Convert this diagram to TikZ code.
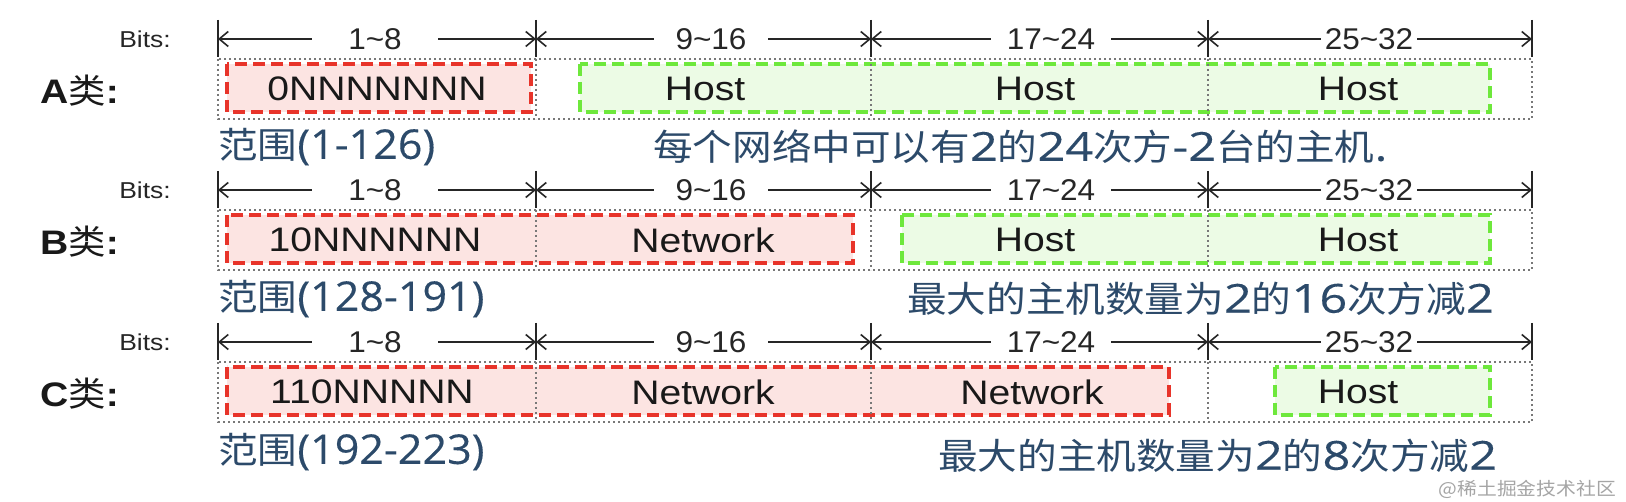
\documentclass[tikz,border=0pt]{standalone}
\usepackage{fontspec}
\setmainfont{Liberation Sans}[FakeStretch=1.15]
\newfontfamily\cjk{Noto Sans CJK SC}[FakeStretch=1.10]
\newfontfamily\dimfont{Liberation Sans}[FakeStretch=1.05]
\newfontfamily\desclat{Open Sans}[FakeStretch=1.22,FakeBold=0.25]
\newfontfamily\rangelat{Open Sans}[FakeStretch=1.05,FakeBold=0.25]
\newcommand\descnum[1]{{\desclat\fontsize{40}{44}\selectfont #1}}
\newcommand\rangenum[1]{{\rangelat\fontsize{41}{44}\selectfont #1}}
\usetikzlibrary{arrows.meta}
\definecolor{redline}{RGB}{232,52,42}
\definecolor{redfill}{RGB}{252,228,226}
\definecolor{greenline}{RGB}{110,232,60}
\definecolor{greenfill}{RGB}{236,251,229}
\definecolor{framegray}{RGB}{120,120,120}
\definecolor{descblue}{RGB}{44,74,106}
\definecolor{wmgray}{RGB}{165,165,165}
\begin{document}
\begin{tikzpicture}[x=1pt,y=-1pt,
  framebox/.style={draw=framegray, line width=2pt, dash pattern=on 2pt off 3pt},
  netbox/.style={draw=redline, fill=redfill, line width=3.6pt, dash pattern=on 12pt off 6pt},
  hostbox/.style={draw=greenline, fill=greenfill, line width=3.6pt, dash pattern=on 12pt off 6pt},
  tickline/.style={draw=black!85, line width=1.8pt},
  dimline/.style={draw=black!85, line width=1.6pt, {Straight Barb[length=9pt,width=15pt,line width=1.6pt]}-{Straight Barb[length=9pt,width=15pt,line width=1.6pt]}},
  dimlbl/.style={fill=white, inner ysep=1pt, font=\dimfont\fontsize{30}{32}\selectfont, text=black!85},
  bitslbl/.style={font=\fontsize{23}{26}\selectfont, text=black!85},
  classlbl/.style={anchor=west, inner sep=0pt, font=\fontsize{34}{38}\selectfont, text=black!90},
  boxtext/.style={inner sep=0pt, font=\fontsize{34}{40}\selectfont, text=black!90},
  desc/.style={anchor=west, inner sep=0pt, text=descblue, font=\cjk\fontsize{36}{40}\selectfont},
]
\useasboundingbox (0,0) rectangle (1626,502);
\fill[white] (0,0) rectangle (1626,502);

% boxes
\path[netbox] (227,64) rectangle (531,112);
\path[hostbox] (580,64) rectangle (1490,112);
\path[netbox] (227,215) rectangle (853,263);
\path[hostbox] (902,215) rectangle (1490,263);
\path[netbox] (227,367) rectangle (1169,415);
\path[hostbox] (1275,367) rectangle (1490,415);

\foreach \r/\d in {A/0,B/151,C/303}{
  \node[bitslbl] (bits\r) at (145,39+\d) {Bits:};
  \foreach \i/\x in {0/218,1/536,2/871,3/1208,4/1532}{
    \coordinate (t\r\i) at (\x,39+\d);
    \coordinate (tt\r\i) at (\x,20+\d);
    \coordinate (tb\r\i) at (\x,57+\d);
    \draw[tickline] (tt\r\i) -- (tb\r\i);
  }
  \draw[dimline] (t\r0) -- (t\r1);
  \draw[dimline] (t\r1) -- (t\r2);
  \draw[dimline] (t\r2) -- (t\r3);
  \draw[dimline] (t\r3) -- (t\r4);
  \node[dimlbl, inner xsep=36pt] (d\r1) at (375,39+\d) {1\textasciitilde 8};
  \node[dimlbl, inner xsep=22pt] (d\r2) at (711,39+\d) {9\textasciitilde 16};
  \node[dimlbl, inner xsep=16pt] (d\r3) at (1051,39+\d) {17\textasciitilde 24};
  \node[dimlbl, inner xsep=4pt] (d\r4) at (1369,39+\d) {25\textasciitilde 32};
  % dotted frame
  \draw[framebox] (218,59+\d) rectangle (1532,119+\d);
  \foreach \x in {536,871,1208}{
    \draw[framebox] (\x,59+\d) -- (\x,119+\d);
  }
}

% class labels
\node[classlbl] (clsA) at (40,91) {\bfseries A{\cjk\mdseries 类}:};
\node[classlbl] (clsB) at (40,242) {\bfseries B{\cjk\mdseries 类}:};
\node[classlbl] (clsC) at (40,394) {\bfseries C{\cjk\mdseries 类}:};

% box texts
\node[boxtext] (a1) at (377,89) {0NNNNNNN};
\node[boxtext] (a2) at (705,89) {Host};
\node[boxtext] (a3) at (1035,89) {Host};
\node[boxtext] (a4) at (1358,89) {Host};
\node[boxtext] (b1) at (375,240) {10NNNNNN};
\node[boxtext] (b2) at (703,240) {Network};
\node[boxtext] (b3) at (1035,240) {Host};
\node[boxtext] (b4) at (1358,240) {Host};
\node[boxtext] (c1) at (372,392) {110NNNNN};
\node[boxtext] (c2) at (703,392) {Network};
\node[boxtext] (c3) at (1032,392) {Network};
\node[boxtext] (c4) at (1358,392) {Host};

% descriptions
\node[desc] (rA) at (218,147) {范围\rangenum{(1-126)}};
\node[desc] (sA) at (653,147) {每个网络中可以有\descnum{2}的\descnum{24}次方\descnum{-2}台的主机\descnum{.}};
\node[desc] (rB) at (218,299) {范围\rangenum{(128-191)}};
\node[desc] (sB) at (907,299) {最大的主机数量为\descnum{2}的\descnum{16}次方减\descnum{2}};
\node[desc] (rC) at (218,452) {范围\rangenum{(192-223)}};
\node[desc] (sC) at (938,456) {最大的主机数量为\descnum{2}的\descnum{8}次方减\descnum{2}};

% watermark
\node[anchor=east, inner sep=0pt, text=wmgray, font=\cjk\fontsize{18}{20}\selectfont] (wm) at (1616,489) {@稀土掘金技术社区};
\end{tikzpicture}
\end{document}
